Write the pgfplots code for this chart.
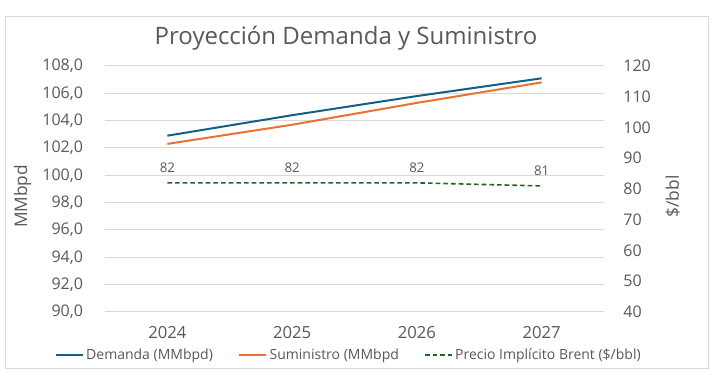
\documentclass[border=0pt]{standalone}
\usepackage{pgfplots}
\pgfplotsset{compat=1.18}
\usepackage{fontspec}
\setmainfont{Open Sans}
\definecolor{cblue}{HTML}{156082}
\definecolor{corange}{HTML}{E97132}
\definecolor{cgreen}{HTML}{196B24}
\definecolor{txt}{HTML}{595959}
\definecolor{gridc}{HTML}{D9D9D9}
\begin{document}
\begin{tikzpicture}[x=1pt,y=1pt]
\fill[white] (0,0) rectangle (540,283.5);
\draw[gridc, line width=0.75pt] (3.75,7.5) rectangle (531,270.75);
\node[txt, font=\fontsize{18}{21}\selectfont] at (259.5,255) {Proyección Demanda y Suministro};
\begin{axis}[
  at={(78.75pt,49.5pt)}, anchor=south west, scale only axis,
  width=374.25pt, height=184.5pt,
  xmin=-0.5, xmax=3.5, ymin=90, ymax=108,
  xtick={0,1,2,3}, xticklabels={2024,2025,2026,2027},
  ytick={90,92,...,108},
  axis line style={draw=none}, major tick length=0pt,
  ymajorgrids, grid style={gridc, line width=0.75pt},
  /pgf/number format/.cd, fixed, fixed zerofill, precision=1, use comma, assume math mode=true,
  /pgfplots/.cd,
  yticklabel style={font=\fontsize{12}{14}\selectfont, text=txt, xshift=-13pt},
  xticklabel style={font=\fontsize{12.5}{14}\selectfont, text=txt, yshift=-7pt},
  ylabel={MMbpd},
  ylabel style={font=\fontsize{13}{15}\selectfont, text=txt, at={(axis description cs:-0.165,0.47)}, anchor=center},
]
\addplot[cblue, line width=1.5pt] coordinates {(0,102.9) (1,104.4) (2,105.8) (3,107.1)};
\addplot[corange, line width=1.5pt] coordinates {(0,102.3) (1,103.7) (2,105.3) (3,106.8)};
\end{axis}
\begin{axis}[
  at={(78.75pt,49.5pt)}, anchor=south west, scale only axis,
  width=374.25pt, height=184.5pt,
  xmin=-0.5, xmax=3.5, ymin=40, ymax=120,
  ytick={40,50,...,120},
  axis y line*=right, hide x axis,
  axis line style={draw=none}, major tick length=0pt,
  /pgf/number format/assume math mode=true,
  yticklabel style={font=\fontsize{12}{14}\selectfont, text=txt, xshift=11pt},
  ylabel={\$/bbl},
  ylabel style={font=\fontsize{13}{15}\selectfont, text=txt, at={(axis description cs:1.138,0.47)}, anchor=center},
  legend style={at={(axis description cs:-0.101,-0.175)}, anchor=west, draw=none, fill=none,
    inner xsep=0pt,
    font=\fontsize{10.5}{12}\selectfont, text=txt, legend columns=3,
    /tikz/every even column/.append style={column sep=17pt}},
  legend cell align=left,
  legend image code/.code={\draw[#1] (0pt,0pt) -- (20pt,0pt);},
]
\addlegendimage{cblue, line width=1.5pt}
\addlegendentry{Demanda (MMbpd)}
\addlegendimage{corange, line width=1.5pt}
\addlegendentry{Suministro (MMbpd}
\addplot[cgreen, line width=1.2pt, dash pattern=on 3.5pt off 2.25pt,
  nodes near coords={\pgfmathprintnumber[fixed,precision=0,assume math mode=true]{\pgfplotspointmeta}},
  nodes near coords style={font=\fontsize{10}{11}\selectfont, text=txt, yshift=4pt, solid}]
  coordinates {(0,82) (1,82) (2,82) (3,81)};
\addlegendentry{Precio Implícito Brent (\$/bbl)}
\end{axis}
\end{tikzpicture}
\end{document}
